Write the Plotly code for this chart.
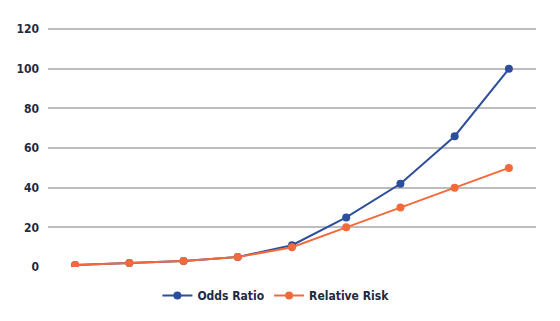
import plotly.graph_objects as go

categories = [1, 2, 3, 4, 5, 6, 7, 8, 9]
odds_ratio = [1, 2, 3, 5, 11, 25, 42, 66, 100]
relative_risk = [1, 2, 3, 5, 10, 20, 30, 40, 50]
y_ticks = [0, 20, 40, 60, 80, 100, 120]

fig = go.Figure()
fig.add_trace(go.Scatter(
    x=categories, y=odds_ratio, mode="lines+markers", name="Odds Ratio",
    line=dict(color="#2D4E9C", width=2), marker=dict(size=8, color="#2D4E9C"),
))
fig.add_trace(go.Scatter(
    x=categories, y=relative_risk, mode="lines+markers", name="Relative Risk",
    line=dict(color="#F26A3B", width=2), marker=dict(size=8, color="#F26A3B"),
))

fig.update_layout(
    width=560, height=321,
    margin=dict(l=48, r=24, t=28, b=53),
    paper_bgcolor="white", plot_bgcolor="white",
    font=dict(family="DejaVu Sans Condensed, DejaVu Sans", size=12, color="#1F2A44", weight=600),
    showlegend=True,
    legend=dict(orientation="h", x=0.467, xanchor="center",
                y=-0.115, yanchor="middle",
                font=dict(size=12, color="#1F2A44", weight=600), itemwidth=30),
    xaxis=dict(range=[0.5, 9.5], showticklabels=False, showgrid=False, zeroline=False,
               showline=False, ticks=""),
    yaxis=dict(range=[0, 120.6], tickvals=y_ticks, showgrid=True, gridcolor="#BDBDBD",
               gridwidth=1.5, zeroline=False, showline=False, ticks="",
               ticklabelstandoff=8, tickfont=dict(size=12, color="#1F2A44", weight=600)),
)

fig.write_html("out.html", config={"displayModeBar": False},
               post_script="document.body.style.margin='0';")
